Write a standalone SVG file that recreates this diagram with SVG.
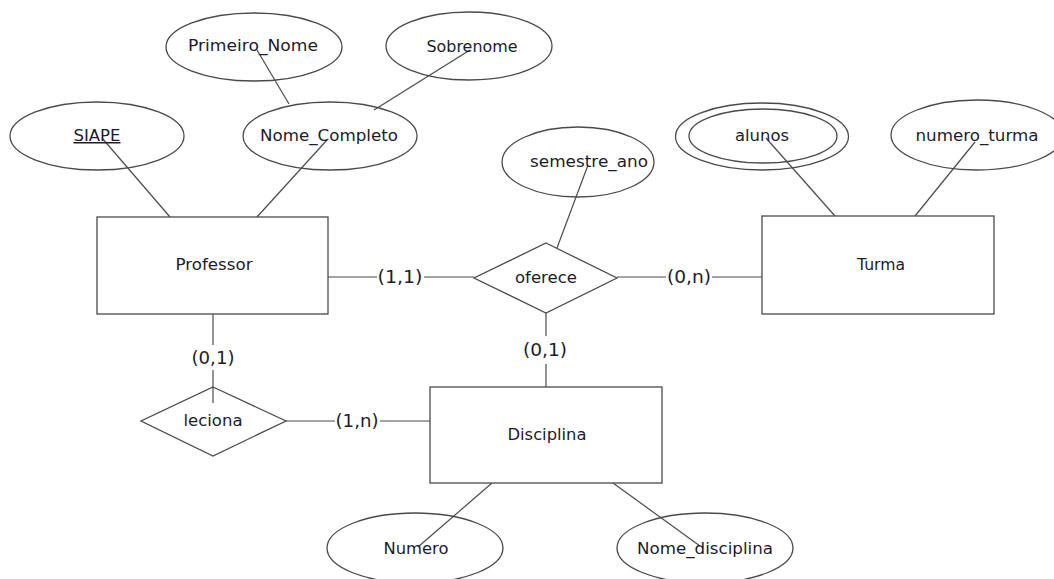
<svg xmlns="http://www.w3.org/2000/svg" width="1054" height="579" viewBox="0 0 1054 579">
<style>
.shape{fill:#fff;stroke:#4a4a4a;stroke-width:1.3}
.conn line{stroke:#4a4a4a;stroke-width:1.2}
text{font-family:"DejaVu Sans","Liberation Sans",sans-serif;font-size:15px;fill:#1c1c2c;text-anchor:middle}
.card{font-size:17px}
</style>
<rect width="1054" height="579" fill="#fff"/>
<g class="conn">
<line x1="257" y1="50" x2="289" y2="104"/>
<line x1="470" y1="50" x2="374" y2="110"/>
<line x1="102" y1="138" x2="170" y2="217"/>
<line x1="327" y1="140" x2="257" y2="217"/>
<line x1="766" y1="138" x2="835" y2="216"/>
<line x1="975" y1="142" x2="915" y2="216"/>
<line x1="588" y1="165" x2="557" y2="248"/>
<line x1="328" y1="277" x2="377" y2="277"/>
<line x1="424" y1="277" x2="474" y2="277"/>
<line x1="617" y1="277" x2="666" y2="277"/>
<line x1="712" y1="277" x2="762" y2="277"/>
<line x1="546" y1="313" x2="546" y2="336"/>
<line x1="546" y1="364" x2="546" y2="387"/>
<line x1="213" y1="314" x2="213" y2="345"/>
<line x1="213" y1="370" x2="213" y2="403"/>
<line x1="286" y1="421" x2="335" y2="421"/>
<line x1="380" y1="421" x2="430" y2="421"/>
<line x1="492" y1="483" x2="418" y2="547"/>
<line x1="613" y1="483" x2="700" y2="546"/>
</g>
<g id="primeiro_nome"><ellipse class="shape" cx="254" cy="47" rx="88" ry="34" style="fill:none"/><text x="253" y="51" textLength="130" lengthAdjust="spacingAndGlyphs">Primeiro_Nome</text></g>
<g id="sobrenome"><ellipse class="shape" cx="469" cy="46" rx="83" ry="34" style="fill:none"/><text x="472" y="52" textLength="91" lengthAdjust="spacingAndGlyphs">Sobrenome</text></g>
<g id="siape"><ellipse class="shape" cx="97" cy="136" rx="87" ry="34" style="fill:none"/><text x="97" y="141" textLength="47" lengthAdjust="spacingAndGlyphs" text-decoration="underline">SIAPE</text></g>
<g id="nome_completo"><ellipse class="shape" cx="330" cy="136" rx="87" ry="34" style="fill:none"/><text x="329" y="141" textLength="138" lengthAdjust="spacingAndGlyphs">Nome_Completo</text></g>
<g id="alunos"><ellipse class="shape" cx="762" cy="136.5" rx="86.5" ry="33.5" style="fill:none"/><ellipse class="shape" cx="763" cy="136" rx="74" ry="27" style="fill:none"/><text x="762" y="141" textLength="54" lengthAdjust="spacingAndGlyphs">alunos</text></g>
<g id="numero_turma"><ellipse class="shape" cx="977" cy="135" rx="86" ry="35" style="fill:none"/><text x="977" y="141" textLength="123" lengthAdjust="spacingAndGlyphs">numero_turma</text></g>
<g id="semestre_ano"><ellipse class="shape" cx="578" cy="162" rx="76" ry="35" style="fill:none"/><text x="589" y="167" textLength="118" lengthAdjust="spacingAndGlyphs">semestre_ano</text></g>
<g id="professor"><rect class="shape" x="97" y="217" width="231" height="97"/><text x="214" y="270" textLength="77" lengthAdjust="spacingAndGlyphs">Professor</text></g>
<g id="turma"><rect class="shape" x="762" y="216" width="232" height="98"/><text x="881" y="270" textLength="48" lengthAdjust="spacingAndGlyphs">Turma</text></g>
<g id="oferece"><polygon class="shape" points="546,243 617,278 546,313 474,278"/><text x="546" y="283" textLength="62" lengthAdjust="spacingAndGlyphs">oferece</text></g>
<g id="leciona"><polygon class="shape" points="213,387 286,421 213,456 141,421" style="fill:none"/><text x="213" y="426" textLength="59" lengthAdjust="spacingAndGlyphs">leciona</text></g>
<g id="disciplina"><rect class="shape" x="430" y="387" width="232" height="96"/><text x="547" y="440" textLength="79" lengthAdjust="spacingAndGlyphs">Disciplina</text></g>
<g id="numero"><ellipse class="shape" cx="415" cy="548" rx="88" ry="35" style="fill:none"/><text x="416" y="554" textLength="65" lengthAdjust="spacingAndGlyphs">Numero</text></g>
<g id="nome_disciplina"><ellipse class="shape" cx="705" cy="548" rx="88" ry="35" style="fill:none"/><text x="705" y="554" textLength="136" lengthAdjust="spacingAndGlyphs">Nome_disciplina</text></g>
<g id="cardinalities">
<text class="card" x="400" y="283" textLength="45" lengthAdjust="spacingAndGlyphs">(1,1)</text>
<text class="card" x="689" y="283" textLength="44" lengthAdjust="spacingAndGlyphs">(0,n)</text>
<text class="card" x="545" y="356" textLength="44" lengthAdjust="spacingAndGlyphs">(0,1)</text>
<text class="card" x="213" y="364" textLength="43" lengthAdjust="spacingAndGlyphs">(0,1)</text>
<text class="card" x="357" y="427" textLength="43" lengthAdjust="spacingAndGlyphs">(1,n)</text>
</g>
</svg>
